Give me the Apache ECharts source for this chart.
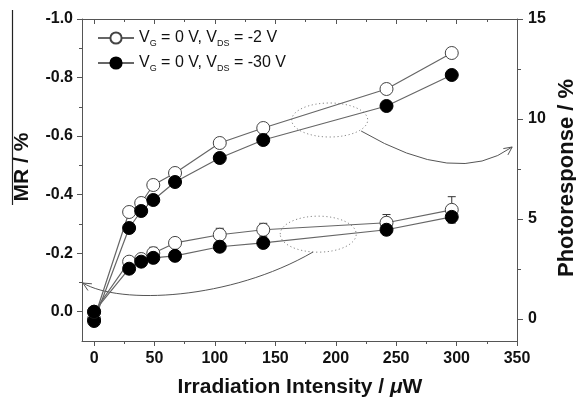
<!DOCTYPE html>
<html><head><meta charset="utf-8">
<script src="https://cdn.jsdelivr.net/npm/echarts@6/dist/echarts.min.js"></script>
<style>html,body{margin:0;padding:0;background:#fff}#c{width:576px;height:398px}</style>
</head><body><div id="c"></div>
<script>
// ---- data ----
const intensity = [0, 29, 39, 49, 67, 104, 140, 242, 296];
const prOpen    = [0, 5.35, 5.8, 6.7, 7.3, 8.8, 9.55, 11.5, 13.3];
const prFilled  = [-0.1, 4.55, 5.4, 5.95, 6.85, 8.05, 8.95, 10.65, 12.2];
const mrOpen    = [0, -0.171, -0.18, -0.20, -0.235, -0.263, -0.28, -0.304, -0.348];
const mrFilled  = [0, -0.147, -0.171, -0.184, -0.191, -0.222, -0.235, -0.28, -0.324];
const mrOpenErr = [0, 0, 0, 0.02, 0, 0.022, 0.022, 0.028, 0.045];
const xTicks  = [0, 50, 100, 150, 200, 250, 300, 350];
const xMinor  = [25, 75, 125, 175, 225, 275, 325];
const mrTicks = [-1.0, -0.8, -0.6, -0.4, -0.2, 0.0];
const mrMinor = [-0.9, -0.7, -0.5, -0.3, -0.1];
const prTicks = [0, 5, 10, 15];
const prMinor = [2.5, 7.5, 12.5];
const legendNames = ['A', 'B'];
const legendTexts = {
  A: '{v|V}{s|G}{v| = 0 V, V}{s|DS}{v| = -2 V}',
  B: '{v|V}{s|G}{v| = 0 V, V}{s|DS}{v| = -30 V}'
};
// annotations (in data coordinates)
const upperEllipse = {x: 195, y: 9.95};      // right axis
const lowerEllipse = {x: 185.5, y: -0.265};  // left axis
const upperArrow = [[221, 9.4], [300.4, 6.6], [346, 8.6]];                 // right axis
const lowerArrow = [[181.2, -0.204], [112.6, -0.04], [21.5, -0.023], [-9.2, -0.098]]; // left axis

const FONT = '"Liberation Sans", Arial, sans-serif';
const AX = '#555';
const chart = echarts.init(document.getElementById('c'), null, {renderer: 'canvas'});

function mainX(pos, inside) {
  return {
    type: 'value', position: pos, min: -10, max: 350,
    axisLine: {show: true, onZero: false, lineStyle: {color: AX, width: 1}},
    axisTick: {show: true, inside: inside, length: 5, customValues: xTicks, lineStyle: {color: AX}},
    axisLabel: pos === 'bottom' ? {show: true, customValues: xTicks, margin: 10,
      fontFamily: FONT, fontWeight: 'bold', fontSize: 16, color: '#111'} : {show: false},
    splitLine: {show: false}
  };
}
function minorX(pos, inside) {
  return {
    type: 'value', position: pos, min: -10, max: 350,
    axisLine: {show: false, onZero: false},
    axisTick: {show: true, inside: inside, length: 3, customValues: xMinor, lineStyle: {color: AX}},
    axisLabel: {show: false}, splitLine: {show: false}
  };
}

const option = {
  animation: false,
  backgroundColor: '#fff',
  grid: {left: 82, right: 59, top: 19, bottom: 57},
  xAxis: [mainX('bottom', false), minorX('bottom', false), mainX('top', true), minorX('top', true)],
  yAxis: [
    {type: 'value', position: 'left', inverse: true, min: -1.0, max: 0.1,
     axisLine: {show: true, onZero: false, lineStyle: {color: AX}},
     axisTick: {show: true, length: 5, customValues: mrTicks, lineStyle: {color: AX}},
     axisLabel: {show: true, customValues: mrTicks, margin: 9, formatter: v => Number(v).toFixed(1),
       fontFamily: FONT, fontWeight: 'bold', fontSize: 16, color: '#111'},
     splitLine: {show: false}},
    {type: 'value', position: 'left', inverse: true, min: -1.0, max: 0.1,
     axisLine: {show: false, onZero: false},
     axisTick: {show: true, length: 3, customValues: mrMinor, lineStyle: {color: AX}},
     axisLabel: {show: false}, splitLine: {show: false}},
    {type: 'value', position: 'right', min: -1.1, max: 15,
     axisLine: {show: true, onZero: false, lineStyle: {color: AX}},
     axisTick: {show: true, length: 6, customValues: prTicks, lineStyle: {color: AX}},
     axisLabel: {show: true, customValues: prTicks, margin: 11,
       fontFamily: FONT, fontWeight: 'bold', fontSize: 16, color: '#111'},
     splitLine: {show: false}},
    {type: 'value', position: 'right', min: -1.1, max: 15,
     axisLine: {show: false, onZero: false},
     axisTick: {show: true, length: 4, customValues: prMinor, lineStyle: {color: AX}},
     axisLabel: {show: false}, splitLine: {show: false}}
  ],
  legend: {
    data: legendNames, orient: 'vertical', left: 92, top: 25,
    itemWidth: 36, itemHeight: 14, itemGap: 7, selectedMode: false,
    formatter: n => legendTexts[n],
    textStyle: {
      color: '#111', fontFamily: FONT,
      rich: {
        v: {fontSize: 16, fontFamily: FONT, color: '#111', lineHeight: 20, verticalAlign: 'middle'},
        s: {fontSize: 9, fontFamily: FONT, color: '#111', lineHeight: 7, verticalAlign: 'bottom'}
      }
    }
  },
  series: [
    {type: 'custom', name: 'err', xAxisIndex: 0, yAxisIndex: 0, z: 1,
     data: intensity.map((x, i) => [x, mrOpen[i], mrOpenErr[i]]).filter(d => d[2] > 0),
     renderItem: function (params, api) {
       const x = api.value(0), y = api.value(1), e = api.value(2);
       const t = api.coord([x, y - e]), b = api.coord([x, y + e]);
       const st = {stroke: '#333', lineWidth: 1};
       return {type: 'group', children: [
         {type: 'line', shape: {x1: t[0], y1: t[1], x2: b[0], y2: b[1]}, style: st},
         {type: 'line', shape: {x1: t[0] - 4, y1: t[1], x2: t[0] + 4, y2: t[1]}, style: st},
         {type: 'line', shape: {x1: b[0] - 4, y1: b[1], x2: b[0] + 4, y2: b[1]}, style: st}
       ]};
     }},
    {type: 'line', name: 'A', xAxisIndex: 0, yAxisIndex: 2, data: intensity.map((x, i) => [x, prOpen[i]]),
     symbol: 'circle', symbolSize: 13, showAllSymbol: true,
     lineStyle: {color: '#666', width: 1.2}, itemStyle: {color: '#fff', borderColor: '#444', borderWidth: 1}},
    {type: 'line', name: 'B', xAxisIndex: 0, yAxisIndex: 2, data: intensity.map((x, i) => [x, prFilled[i]]),
     symbol: 'circle', symbolSize: 13, showAllSymbol: true,
     lineStyle: {color: '#666', width: 1.2}, itemStyle: {color: '#000', borderColor: '#000', borderWidth: 1}},
    {type: 'line', name: 'A', xAxisIndex: 0, yAxisIndex: 0, data: intensity.map((x, i) => [x, mrOpen[i]]),
     symbol: 'circle', symbolSize: 13, showAllSymbol: true,
     lineStyle: {color: '#666', width: 1.2}, itemStyle: {color: '#fff', borderColor: '#444', borderWidth: 1}},
    {type: 'line', name: 'B', xAxisIndex: 0, yAxisIndex: 0, data: intensity.map((x, i) => [x, mrFilled[i]]),
     symbol: 'circle', symbolSize: 13, showAllSymbol: true,
     lineStyle: {color: '#666', width: 1.2}, itemStyle: {color: '#000', borderColor: '#000', borderWidth: 1}}
  ]
};
chart.setOption(option);

// ---- annotations & titles ----
const toR = p => chart.convertToPixel({xAxisIndex: 0, yAxisIndex: 2}, p);
const toL = p => chart.convertToPixel({xAxisIndex: 0, yAxisIndex: 0}, p);
function arrowHead(p, from, len) {
  const a = Math.atan2(p[1] - from[1], p[0] - from[0]);
  const s = Math.PI / 7;
  return [[p[0] - len * Math.cos(a - s), p[1] - len * Math.sin(a - s)], p,
          [p[0] - len * Math.cos(a + s), p[1] - len * Math.sin(a + s)]];
}
const ue = toR([upperEllipse.x, upperEllipse.y]);
const le = toL([lowerEllipse.x, lowerEllipse.y]);
const ua = upperArrow.map(toR);
const la = lowerArrow.map(toL);
const annStroke = {stroke: '#555', lineWidth: 1, fill: null};
const dotted = {stroke: '#888', lineWidth: 1, lineDash: [1.2, 2.6], fill: null};
const titleFont = 'bold 21px ' + FONT;
chart.setOption({
  graphic: [
    {type: 'ellipse', shape: {cx: ue[0], cy: ue[1], rx: 38, ry: 17}, style: dotted, z: 0},
    {type: 'ellipse', shape: {cx: le[0], cy: le[1], rx: 38, ry: 18}, style: dotted, z: 0},
    {type: 'bezierCurve', shape: {x1: ua[0][0], y1: ua[0][1], cpx1: ua[1][0], cpy1: ua[1][1], x2: ua[2][0], y2: ua[2][1]}, style: annStroke},
    {type: 'polyline', shape: {points: arrowHead(ua[2], ua[1], 9)}, style: annStroke},
    {type: 'bezierCurve', shape: {x1: la[0][0], y1: la[0][1], cpx1: la[1][0], cpy1: la[1][1], cpx2: la[2][0], cpy2: la[2][1], x2: la[3][0], y2: la[3][1]}, style: annStroke},
    {type: 'polyline', shape: {points: arrowHead(la[3], la[2], 9)}, style: annStroke},
    {type: 'line', shape: {x1: 12.5, y1: 10, x2: 12.5, y2: 205}, style: {stroke: '#222', lineWidth: 1.2}},
    {type: 'text', x: 22, y: 167, rotation: Math.PI / 2,
     style: {text: 'MR / %', font: titleFont, fill: '#111', textAlign: 'center', textVerticalAlign: 'middle'}},
    {type: 'text', x: 567, y: 178, rotation: Math.PI / 2,
     style: {text: 'Photoresponse / %', font: 'bold 22px ' + FONT, fill: '#111', textAlign: 'center', textVerticalAlign: 'middle'}},
    {type: 'text', x: 300, y: 387,
     style: {text: '{b|Irradiation Intensity / }{i|μ}{b|W}', textAlign: 'center', textVerticalAlign: 'middle',
       rich: {b: {font: titleFont, fill: '#111'}, i: {font: 'italic bold 21px ' + FONT, fill: '#111'}}}}
  ]
});
</script></body></html>
